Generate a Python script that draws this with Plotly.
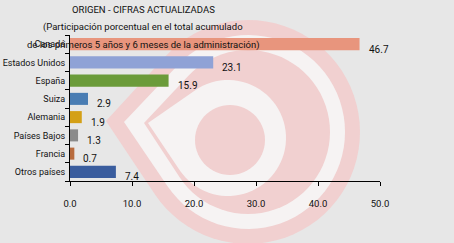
import math
import plotly.graph_objects as go

categories = ["Canadá", "Estados Unidos", "España", "Suiza", "Alemania", "Países Bajos", "Francia", "Otros países"]
values = [46.7, 23.1, 15.9, 2.9, 1.9, 1.3, 0.7, 7.4]
value_labels = ["46.7", "23.1", "15.9", "2.9", "1.9", "1.3", "0.7", "7.4"]
bar_colors = ["#E8957D", "#8FA2D6", "#6B9B3A", "#4A7DB3", "#D4A017", "#8A8A8A", "#B86B3E", "#3A5D9E"]
x_ticks = [0, 10, 20, 30, 40, 50]
x_tick_labels = ["0.0", "10.0", "20.0", "30.0", "40.0", "50.0"]
title_lines = ["ORIGEN - CIFRAS ACTUALIZADAS",
               "(Participación porcentual en el total acumulado",
               "de los primeros 5 años y 6 meses de la administración)"]

W, H = 454, 243
L, R, T, B = 70, 380, 35, 181
FONT = "Roboto, Liberation Sans, sans-serif"
BG = "#E7E7E7"
PINK = "#F1D0D0"
WHITE = "#F6F3F3"


def px(x):
    return (x - L) / (R - L)


def py(y):
    return (B - y) / (B - T)


def teardrop(cx, cy, r, tx, ty, n=60):
    d = math.hypot(tx - cx, ty - cy)
    phi = math.atan2(ty - cy, tx - cx)
    a = math.acos(min(r / d, 0.999))
    start = phi + a
    end = phi - a + 2 * math.pi
    pts = [(tx, ty)]
    for i in range(n + 1):
        t = start + (end - start) * i / n
        pts.append((cx + r * math.cos(t), cy + r * math.sin(t)))
    s = "M %f,%f" % (px(pts[0][0]), py(pts[0][1]))
    for x, y in pts[1:]:
        s += " L %f,%f" % (px(x), py(y))
    return s + " Z"


def circle_path(cx, cy, r, n=60):
    s = ""
    for i in range(n + 1):
        t = 2 * math.pi * i / n
        x, y = cx + r * math.cos(t), cy + r * math.sin(t)
        s += ("M" if i == 0 else " L") + " %f,%f" % (px(x), py(y))
    return s + " Z"


shapes = []
for path, col in [
    (teardrop(248, 132, 112, 106, 121), PINK),
    (teardrop(248, 132, 97, 124, 122), WHITE),
    (teardrop(248, 132, 82, 144, 123), PINK),
    (teardrop(228, 138, 58, 148, 123), WHITE),
    (circle_path(230, 140, 35), PINK),
]:
    shapes.append(dict(type="path", path=path, xref="paper", yref="paper",
                       fillcolor=col, line=dict(width=0), layer="below"))

fig = go.Figure(go.Bar(
    x=values, y=categories, orientation="h",
    marker=dict(color=bar_colors, line=dict(width=0)),
    width=0.66, hoverinfo="skip",
))

annotations = []
for c, v, lab in zip(categories, values, value_labels):
    annotations.append(dict(x=v, y=c, xref="x", yref="y", text=lab, showarrow=False,
                            xanchor="left", yanchor="middle", xshift=7, yshift=-5,
                            font=dict(family=FONT, size=10, color="#111111")))
for i, line in enumerate(title_lines):
    annotations.append(dict(x=px(143), y=py(10 + i * 17.5), xref="paper", yref="paper",
                            text=line, showarrow=False, xanchor="center", yanchor="middle",
                            font=dict(family=FONT, size=9.5, color="#111111")))

fig.update_layout(
    width=W, height=H,
    margin=dict(l=L, r=W - R, t=T, b=H - B, pad=0),
    paper_bgcolor=BG, plot_bgcolor="rgba(0,0,0,0)",
    showlegend=False, bargap=0.34,
    shapes=shapes, annotations=annotations,
    font=dict(family=FONT, size=10, color="#111111"),
)
fig.update_xaxes(range=[0, 50], tickvals=x_ticks, ticktext=x_tick_labels, automargin=False,
                 showgrid=False, zeroline=False, showline=True, linecolor="#000000", linewidth=1,
                 ticks="outside", ticklen=4, tickcolor="#000000", ticklabelstandoff=10,
                 tickfont=dict(family=FONT, size=9.5, color="#111111"))
fig.update_yaxes(categoryorder="array", categoryarray=categories[::-1], automargin=False,
                 range=[-0.5, len(categories) - 0.5],
                 showgrid=False, zeroline=False, showline=True, linecolor="#000000", linewidth=1,
                 ticks="outside", ticklen=4, tickcolor="#000000", tickson="boundaries",
                 ticklabelstandoff=2,
                 tickfont=dict(family=FONT, size=9, color="#111111"))

fig.write_html("out.html")
